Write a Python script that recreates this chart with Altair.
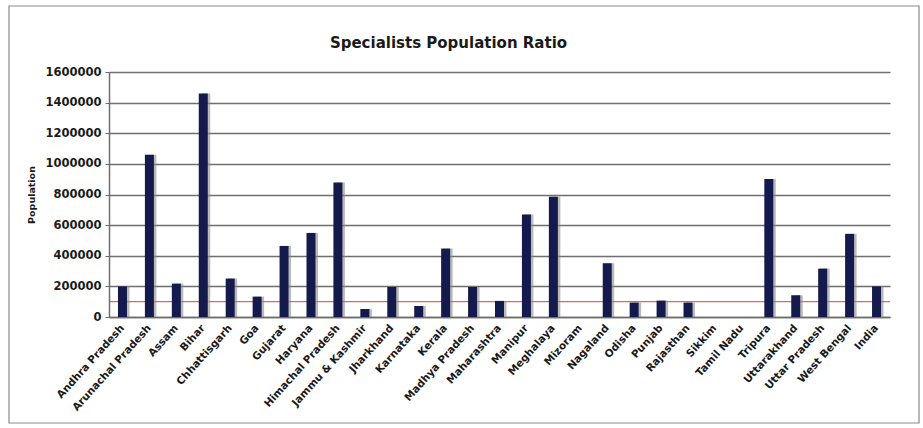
import altair as alt
import pandas as pd

# States / UTs and population served per specialist
states = [
    "Andhra Pradesh", "Arunachal Pradesh", "Assam", "Bihar", "Chhattisgarh",
    "Goa", "Gujarat", "Haryana", "Himachal Pradesh", "Jammu & Kashmir",
    "Jharkhand", "Karnataka", "Kerala", "Madhya Pradesh", "Maharashtra",
    "Manipur", "Meghalaya", "Mizoram", "Nagaland", "Odisha", "Punjab",
    "Rajasthan", "Sikkim", "Tamil Nadu", "Tripura", "Uttarakhand",
    "Uttar Pradesh", "West Bengal", "India",
]
population = [
    200000, 1060000, 218000, 1460000, 251000,
    133000, 464000, 549000, 879000, 52000,
    196000, 72000, 447000, 196000, 105000,
    670000, 785000, 0, 351000, 94000, 107000,
    94000, 0, 0, 902000, 142000,
    316000, 543000, 200000,
]
reference_level = [100000]
y_ticks = [0, 200000, 400000, 600000, 800000, 1000000, 1200000, 1400000, 1600000]

df = pd.DataFrame({"State": states, "Population": population})
ref_df = pd.DataFrame({"Population": reference_level})

FONT = "DejaVu Sans"
W, H = 781, 245

x_enc = alt.X(
    "State:N",
    sort=None,
    scale=alt.Scale(paddingInner=0.65, paddingOuter=0.325),
    axis=alt.Axis(
        title=None,
        labelAngle=-48,
        labelFont=FONT,
        labelFontSize=10.5,
        labelFontWeight="bold",
        labelColor="#1a1a1a",
        labelPadding=9,
        labelOverlap=False,
        ticks=False,
        domainColor="#6e6e6e",
        domainWidth=1.5,
        grid=False,
    ),
)
y_axis = alt.Axis(
    title="Population",
    titleFont=FONT,
    titleFontSize=9.5,
    titleFontWeight="bold",
    titleColor="#1a1a1a",
    titlePadding=8,
    values=y_ticks,
    format="d",
    labelFont=FONT,
    labelFontSize=11.5,
    labelFontWeight="bold",
    labelColor="#1a1a1a",
    labelPadding=4,
    labelOverlap=False,
    tickSize=4,
    tickColor="#6e6e6e",
    domainColor="#6e6e6e",
    domainWidth=1.5,
    grid=True,
    gridColor="#6e6e6e",
    gridWidth=1.4,
)
y_scale = alt.Scale(domain=[0, 1600000], nice=False)
y_enc = alt.Y("Population:Q", scale=y_scale, axis=y_axis)

base = alt.Chart(df)

shadow = base.mark_bar(color="#8c8c8c", opacity=0.6, width=9, xOffset=2.5).encode(
    x=x_enc, y=y_enc
)
bars = base.mark_bar(color="#141a4c", width=9).encode(x=x_enc, y=y_enc)

# Reference level drawn behind the bars
ref_line = alt.Chart(ref_df).mark_rule(color="#e0402a", strokeWidth=1).encode(
    y=alt.Y("Population:Q", scale=y_scale, axis=y_axis)
)

# Decorative frame around the whole figure
frame = alt.Chart(ref_df).mark_rect(
    fill=None, stroke="#8a8a8a", strokeWidth=1.2
).encode(
    x=alt.value(-100), x2=alt.value(810), y=alt.value(-66), y2=alt.value(351)
)

chart = (
    alt.layer(frame, ref_line, shadow, bars)
    .properties(
        width=W,
        height=H,
        title=alt.TitleParams(
            "Specialists Population Ratio",
            font=FONT,
            fontSize=15,
            fontWeight="bold",
            color="#1a1a1a",
            anchor="middle",
            frame="group",
            dx=-51,
            offset=-46,
        ),
        autosize=alt.AutoSizeParams(type="none"),
        padding={"left": 109, "top": 72, "right": 33, "bottom": 111},
        background="white",
    )
    .configure_view(stroke=None)
)

chart.save("out.html", embed_options={"renderer": "svg", "actions": False})
